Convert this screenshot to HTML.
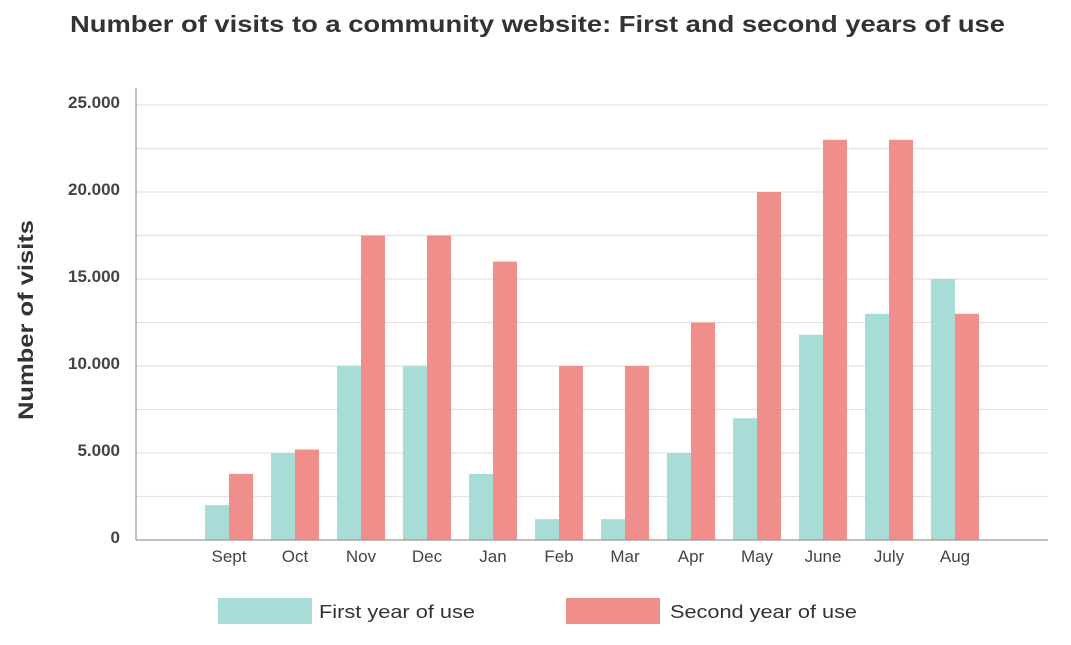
<!DOCTYPE html>
<html><head><meta charset="utf-8">
<style>
body{margin:0;background:#fff;width:1071px;height:640px;overflow:hidden;font-family:"Liberation Sans",sans-serif;}
svg text{font-family:"Liberation Sans",sans-serif;}
</style></head>
<body>
<svg id="chart" width="1071" height="640" xmlns="http://www.w3.org/2000/svg">
<text x="70" y="32" textLength="935" lengthAdjust="spacingAndGlyphs" font-size="23" font-weight="bold" fill="#333">Number of visits to a community website: First and second years of use</text>
<text transform="translate(33,320) rotate(-90)" text-anchor="middle" font-size="21" font-weight="bold" fill="#333" textLength="200" lengthAdjust="spacingAndGlyphs">Number of visits</text>
<g id="grid"></g><g id="bars"></g><g id="axes"></g>
<g>
<rect x="218" y="598" width="94" height="26" fill="#a8dcd7"/>
<text x="319" y="618" font-size="18" fill="#333" textLength="156" lengthAdjust="spacingAndGlyphs">First year of use</text>
<rect x="566" y="598" width="94" height="26" fill="#f08e8c"/>
<text x="670" y="618" font-size="18" fill="#333" textLength="187" lengthAdjust="spacingAndGlyphs">Second year of use</text>
</g>
</svg>
<script>
const categories=["Sept","Oct","Nov","Dec","Jan","Feb","Mar","Apr","May","June","July","Aug"];
const firstYear=[2000,5000,10000,10000,3800,1200,1200,5000,7000,11800,13000,15000];
const secondYear=[3800,5200,17500,17500,16000,10000,10000,12500,20000,23000,23000,13000];
const gridValues=[0,2500,5000,7500,10000,12500,15000,17500,20000,22500,25000];
const tickValues=[0,5000,10000,15000,20000,25000];
const tickLabels=["0","5.000","10.000","15.000","20.000","25.000"];
const NS="http://www.w3.org/2000/svg";
const x0=136,x1=1048,y0=540,yTop=105,yMax=25000;
const y=v=>y0-(v/yMax)*(y0-yTop);
const xc=i=>229+i*66;
const bw=24;
function mk(t,a,p){const e=document.createElementNS(NS,t);for(const k in a)e.setAttribute(k,a[k]);p.appendChild(e);return e;}
const grid=document.getElementById('grid'),bars=document.getElementById('bars'),axes=document.getElementById('axes');
gridValues.forEach(v=>{if(v===0)return;const l=mk('line',{x1:x0,x2:x1,y1:y(v),y2:y(v),stroke:'#e2e2e2','stroke-width':1.2},grid);

});
tickValues.forEach((v,i)=>{const t=mk('text',{x:120,y:y(v)+3,'text-anchor':'end','font-size':17,'font-weight':'bold',fill:'#444'},axes);t.textContent=tickLabels[i];

});
categories.forEach((c,i)=>{
const a=mk('rect',{x:xc(i)-bw,y:y(firstYear[i]),width:bw,height:y0-y(firstYear[i]),fill:'#a8dcd7'},bars);


const b=mk('rect',{x:xc(i),y:y(secondYear[i]),width:bw,height:y0-y(secondYear[i]),fill:'#f08e8c'},bars);


const t=mk('text',{x:xc(i),y:562,'text-anchor':'middle','font-size':17,fill:'#444'},axes);t.textContent=c;


});
const ya=mk('line',{x1:x0,x2:x0,y1:88,y2:y0,stroke:'#999','stroke-width':1.2},axes);


const xa=mk('line',{x1:x0,x2:x1,y1:y0,y2:y0,stroke:'#999','stroke-width':1.2},axes);


</script>
</body></html>
